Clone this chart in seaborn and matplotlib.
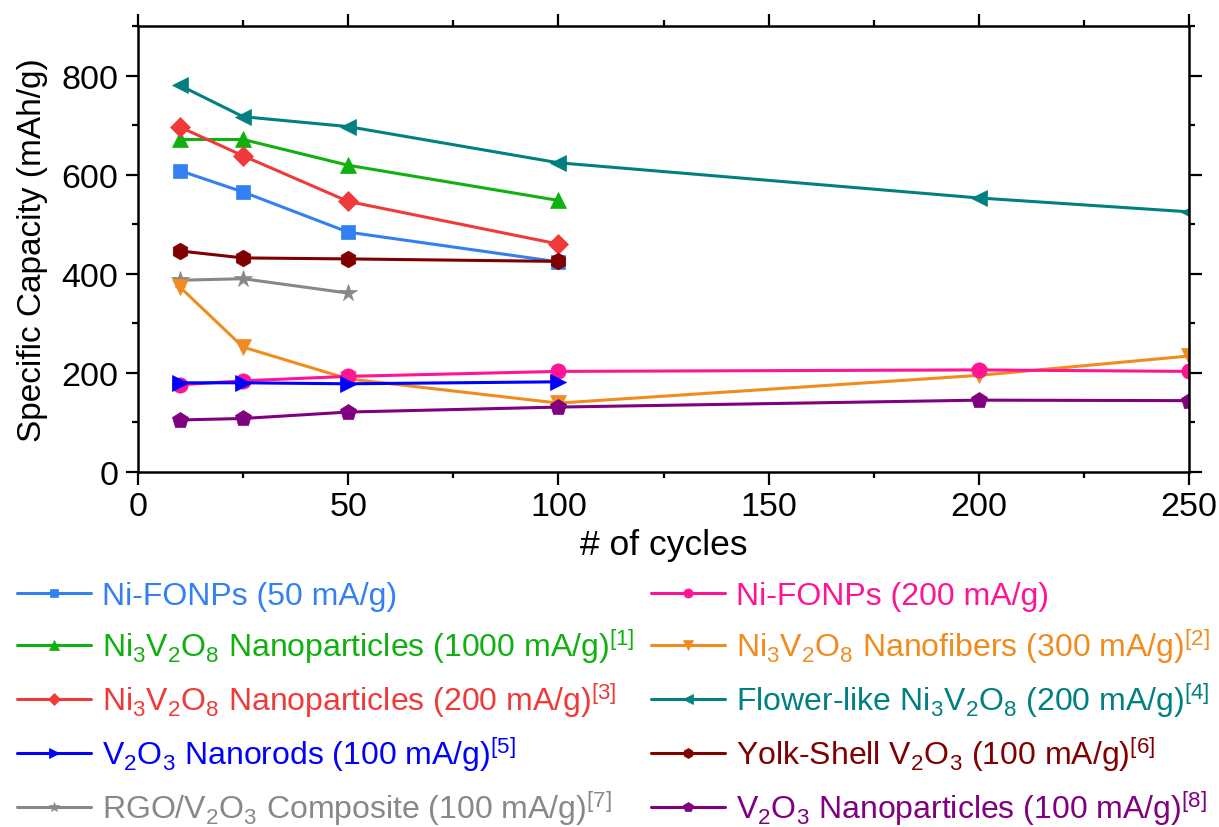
import numpy as np
import pandas as pd
import matplotlib
matplotlib.use("Agg")
import matplotlib.pyplot as plt
import seaborn as sns
from matplotlib.ticker import MultipleLocator

sns.set_theme(style="white")
plt.rcParams['font.family'] = ['Liberation Sans', 'DejaVu Sans']
plt.rcParams['mathtext.default'] = 'regular'
for k in ['text.color', 'axes.labelcolor', 'xtick.color', 'ytick.color', 'axes.edgecolor']:
    plt.rcParams[k] = 'black'

# ---- data ----
cycles_6 = [10, 25, 50, 100, 200, 250]
cycles_4 = [10, 25, 50, 100]
cycles_3 = [10, 25, 50]

nifonps_50 = [608, 565, 484, 424]
nvo_np_1000 = [671, 671, 619, 548]
nvo_np_200 = [696, 638, 546, 460]
v2o3_nanorods = [180, 180, 178, 182]
rgo_v2o3 = [387, 390, 361]
nifonps_200 = [176, 184, 193, 203, 206, 203]
nvo_nanofibers = [373, 252, 188, 139, 195, 234]
flower_nvo = [780, 717, 697, 624, 553, 525]
yolk_shell = [446, 432, 430, 425]
v2o3_np = [105, 108, 121, 131, 145, 144]

labels = [
    "Ni-FONPs (50 mA/g)",
    "Ni$_3$V$_2$O$_8$ Nanoparticles (1000 mA/g)$^{[1]}$",
    "Ni$_3$V$_2$O$_8$ Nanoparticles (200 mA/g)$^{[3]}$",
    "V$_2$O$_3$ Nanorods (100 mA/g)$^{[5]}$",
    "RGO/V$_2$O$_3$ Composite (100 mA/g)$^{[7]}$",
    "Ni-FONPs (200 mA/g)",
    "Ni$_3$V$_2$O$_8$ Nanofibers (300 mA/g)$^{[2]}$",
    "Flower-like Ni$_3$V$_2$O$_8$ (200 mA/g)$^{[4]}$",
    "Yolk-Shell V$_2$O$_3$ (100 mA/g)$^{[6]}$",
    "V$_2$O$_3$ Nanoparticles (100 mA/g)$^{[8]}$",
]
xs = [cycles_4, cycles_4, cycles_4, cycles_4, cycles_3,
      cycles_6, cycles_6, cycles_6, cycles_4, cycles_6]
ys = [nifonps_50, nvo_np_1000, nvo_np_200, v2o3_nanorods, rgo_v2o3,
      nifonps_200, nvo_nanofibers, flower_nvo, yolk_shell, v2o3_np]
colors = ["#3380F2", "#10B010", "#F03A3A", "#0000FF", "#888888",
          "#FF1493", "#F08C1E", "#008080", "#800000", "#800080"]
markers = ["s", "^", "D", ">", "*", "o", "v", "<", "h", "p"]
msizes = [10, 11, 10, 12, 13, 11, 11, 12, 12, 12]

fig = plt.figure(figsize=(12.19, 8.28), dpi=100)
ax = fig.add_axes([138/1219, 1-473/828, (1189-138)/1219, (473-27)/828])

draw_order = [7, 1, 2, 0, 8, 4, 6, 5, 3, 9]
handles = [None]*10
for i in draw_order:
    sns.lineplot(x=xs[i], y=ys[i], color=colors[i], marker=markers[i],
                 markersize=msizes[i], markeredgecolor=colors[i],
                 markeredgewidth=0.5, linewidth=2.2, ax=ax, label=labels[i],
                 legend=False)
    handles[i] = ax.lines[-1]

ax.set_xlim(0, 250)
ax.set_ylim(0, 900)
ax.xaxis.set_major_locator(MultipleLocator(50))
ax.xaxis.set_minor_locator(MultipleLocator(25))
ax.yaxis.set_major_locator(MultipleLocator(200))
ax.yaxis.set_minor_locator(MultipleLocator(100))
ax.tick_params(which='both', direction='out', top=True, right=True,
               bottom=True, left=True, width=1.6, color='black',
               labelsize=24.5, pad=5)
ax.tick_params(which='major', length=9)
ax.tick_params(which='minor', length=4.5)
for s in ax.spines.values():
    s.set_color('black')
    s.set_linewidth(1.8)

ax.set_xlabel("# of cycles", fontsize=25.5, labelpad=4)
ax.set_ylabel("Specific Capacity (mAh/g)", fontsize=24, labelpad=10)

leg_kw = dict(frameon=False, fontsize=23, handlelength=2.32, handletextpad=0.34,
              borderpad=0, borderaxespad=0, labelspacing=0.47,
              markerscale=0.6, labelcolor='linecolor', loc='upper left')
leg1 = fig.legend(handles[:5], labels[:5], bbox_to_anchor=(17/1219, 1-582/828), **leg_kw)
leg2 = fig.legend(handles[5:], labels[5:], bbox_to_anchor=(651/1219, 1-582/828), **leg_kw)

fig.savefig("out.png", dpi=100)
